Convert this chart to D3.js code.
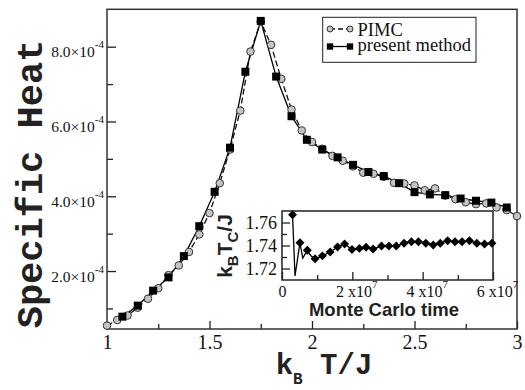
<!DOCTYPE html>
<html>
<head>
<meta charset="utf-8">
<script src="https://cdn.jsdelivr.net/npm/d3@7"></script>
<style>
  html, body { margin: 0; padding: 0; background: #fff; }
  svg { display: block; }
  .serif { font-family: "Liberation Serif", "Times New Roman", serif; }
  .mono { font-family: "Liberation Mono", "Courier New", monospace; font-weight: bold; }
  .sans { font-family: "Liberation Sans", Arial, sans-serif; font-weight: bold; }
</style>
</head>
<body>
<svg id="chart" width="525" height="390"></svg>
<script>
// ---- Data (specific heat in units of 1e-4) ----
const pimcT = [1.00, 1.05, 1.10, 1.15, 1.20, 1.25, 1.30, 1.35, 1.40, 1.45, 1.50,
  1.55, 1.60, 1.65, 1.70, 1.75, 1.80, 1.85, 1.90, 1.95, 2.00,
  2.05, 2.10, 2.15, 2.20, 2.25, 2.30, 2.35, 2.40, 2.45, 2.50,
  2.55, 2.60, 2.65, 2.70, 2.75, 2.80, 2.85, 2.90, 2.95, 3.00];
const pimcHeat = [0.54, 0.69, 0.81, 1.02, 1.26, 1.54, 1.89, 2.15, 2.51, 2.98, 3.55,
  4.35, 5.25, 6.29, 7.87, 8.67, 8.05, 7.14, 6.32, 5.76, 5.45,
  5.27, 5.08, 4.95, 4.80, 4.63, 4.60, 4.52, 4.36, 4.34, 4.29,
  4.16, 4.21, 4.02, 3.92, 3.84, 3.79, 3.81, 3.70, 3.63, 3.47];

const presentT = [1.075, 1.15, 1.225, 1.30, 1.375, 1.45, 1.525, 1.60, 1.675, 1.75,
  1.825, 1.90, 1.975, 2.05, 2.125, 2.20, 2.275, 2.35, 2.425, 2.50,
  2.575, 2.65, 2.725, 2.80, 2.875, 2.95];
const presentHeat = [0.78, 1.075, 1.475, 1.83, 2.40, 3.20, 4.12, 5.30, 7.33, 8.69,
  7.20, 6.14, 5.51, 5.25, 5.04, 4.84, 4.65, 4.54, 4.35, 4.11,
  4.05, 4.03, 3.94, 3.88, 3.83, 3.70];

// inset: critical temperature vs Monte Carlo time (time in units of 1e6)
const mcTime = [3.0, 5.1, 7.2, 9.4, 11.5, 13.7, 15.8, 17.8, 19.9, 22.0,
  23.9, 25.9, 28.3, 30.4, 32.5, 34.7, 36.8, 38.8, 40.9, 43.0,
  45.0, 47.1, 49.2, 51.2, 53.3, 55.4, 57.6, 59.7];
const mcTc = [1.7668, 1.7424, 1.7358, 1.7284, 1.7310, 1.7343, 1.7387, 1.7413, 1.7365, 1.7375,
  1.7385, 1.7370, 1.7395, 1.7395, 1.7395, 1.7420, 1.7433, 1.7433, 1.7420, 1.7405,
  1.7420, 1.7442, 1.7433, 1.7433, 1.7442, 1.7420, 1.7413, 1.7420];
// line-only points between markers (no symbol drawn)
const mcDipTime = [3.7, 5.9, 8.2];
const mcDipTc = [1.7135, 1.7290, 1.7310];

const xMajor = [1, 1.5, 2, 2.5, 3];
const xMinor = [1.25, 1.75, 2.25, 2.75];
const yMajor = [2, 4, 6, 8];
const yMinor = [1, 3, 5, 7];
const insetXMajor = [0, 20, 40, 60];
const insetXMinor = [10, 30, 50];
const insetYMajor = [1.72, 1.74, 1.76];
const insetYMinor = [1.73, 1.75];
const legendLabels = ["PIMC", "present method"];

// ---- Layout ----
const svg = d3.select("#chart");
const frame = { left: 107, right: 517, top: 9.3, bottom: 329 };
const inset = { left: 282, right: 493, top: 211, bottom: 280 };

svg.append("rect").attr("width", 525).attr("height", 390).attr("fill", "#fff");

const x = d3.scaleLinear().domain([1, 3]).range([frame.left, frame.right]);
const y = d3.scaleLinear().domain([0.45, 9]).range([frame.bottom, frame.top]);

// ---- Axes (ticks point inward) ----
function styleAxis(g) {
  g.attr("font-family", null).attr("font-size", null);
  g.select(".domain").remove();
  g.selectAll(".tick line").attr("stroke", "#222").attr("stroke-width", 1.3);
}

svg.append("g")
  .attr("transform", `translate(0,${frame.bottom})`)
  .call(d3.axisBottom(x).tickValues(xMinor).tickSize(-5).tickFormat(""))
  .call(styleAxis);
svg.append("g")
  .attr("transform", `translate(0,${frame.bottom})`)
  .call(d3.axisBottom(x).tickValues(xMajor).tickSize(-8).tickPadding(6).tickFormat(d3.format("")))
  .call(styleAxis)
  .call((g) => g.selectAll("text").attr("class", "serif")
    .style("font-size", "20px").attr("fill", "#111"));

svg.append("g")
  .attr("transform", `translate(${frame.left},0)`)
  .call(d3.axisLeft(y).tickValues(yMinor).tickSize(-6).tickFormat(""))
  .call(styleAxis);
svg.append("g")
  .attr("transform", `translate(${frame.left},0)`)
  .call(d3.axisLeft(y).tickValues(yMajor).tickSize(-9).tickFormat(""))
  .call(styleAxis)
  .call((g) => g.selectAll(".tick").each(function (d) {
    const t = d3.select(this).append("text")
      .attr("class", "serif")
      .attr("x", -3).attr("y", 10)
      .attr("text-anchor", "end")
      .style("font-size", "15.5px").attr("fill", "#111");
    t.append("tspan").text(d3.format(".1f")(d) + "\u00d710");
    t.append("tspan").attr("dy", -9).style("font-size", "11px").text("-4");
  }));

// frame
svg.append("rect")
  .attr("x", frame.left).attr("y", frame.top)
  .attr("width", frame.right - frame.left).attr("height", frame.bottom - frame.top)
  .attr("fill", "none").attr("stroke", "#333").attr("stroke-width", 1.5);

// ---- Series ----
const pimc = pimcT.map((t, i) => ({ t, c: pimcHeat[i] }));
const present = presentT.map((t, i) => ({ t, c: presentHeat[i] }));
const line = d3.line().x((d) => x(d.t)).y((d) => y(d.c));

svg.append("path").datum(pimc)
  .attr("d", line).attr("fill", "none")
  .attr("stroke", "#111").attr("stroke-width", 1.3).attr("stroke-dasharray", "6,3");
svg.append("path").datum(present)
  .attr("d", line).attr("fill", "none")
  .attr("stroke", "#000").attr("stroke-width", 1.3);

svg.append("g").selectAll("circle").data(pimc).join("circle")
  .attr("cx", (d) => x(d.t)).attr("cy", (d) => y(d.c)).attr("r", 3.8)
  .attr("fill", "#c4c4c4").attr("stroke", "#333").attr("stroke-width", 1);

const square = d3.symbol().type(d3.symbolSquare);
svg.append("g").selectAll("path").data(present).join("path")
  .attr("transform", (d) => `translate(${x(d.t)},${y(d.c)})`)
  .attr("d", square.size(64)()).attr("fill", "#000");

// ---- Legend ----
const lg = svg.append("g");
lg.append("rect").attr("x", 322.7).attr("y", 17.3).attr("width", 153.3).attr("height", 45)
  .attr("fill", "#fff").attr("stroke", "#222").attr("stroke-width", 1);
lg.append("line").attr("x1", 330).attr("x2", 350).attr("y1", 29).attr("y2", 29)
  .attr("stroke", "#111").attr("stroke-width", 1.3).attr("stroke-dasharray", "5,3");
[330, 350].forEach((cx) => lg.append("circle").attr("cx", cx).attr("cy", 29).attr("r", 3)
  .attr("fill", "#c4c4c4").attr("stroke", "#333").attr("stroke-width", 1));
lg.append("line").attr("x1", 330).attr("x2", 350).attr("y1", 46.5).attr("y2", 46.5)
  .attr("stroke", "#000").attr("stroke-width", 1.3);
[330, 350].forEach((cx) => lg.append("path").attr("transform", `translate(${cx},46.5)`)
  .attr("d", square.size(40)()).attr("fill", "#000"));
lg.selectAll("text.lab").data(legendLabels).join("text")
  .attr("class", "serif").attr("x", 357.5).attr("y", (d, i) => 36 + i * 15.3)
  .style("font-size", "18.5px").attr("fill", "#111").text((d) => d);

// ---- Axis titles ----
svg.append("text")
  .attr("class", "mono")
  .attr("transform", "translate(42,184) rotate(-90)")
  .attr("text-anchor", "middle")
  .style("font-size", "37px").attr("fill", "#222")
  .text("Specific Heat");

const xt = svg.append("text")
  .attr("class", "mono")
  .attr("x", 324).attr("y", 374).attr("text-anchor", "middle")
  .style("font-size", "29px").attr("fill", "#222");
xt.append("tspan").text("k");
xt.append("tspan").attr("dy", 10).style("font-size", "16px").text("B");
xt.append("tspan").attr("dy", -10).text(" T/J");

// ---- Inset ----
const ix = d3.scaleLinear().domain([0, 60]).range([inset.left, inset.right]);
const iy = d3.scaleLinear().domain([1.71, 1.77]).range([inset.bottom, inset.top]);

svg.append("rect")
  .attr("x", inset.left).attr("y", inset.top)
  .attr("width", inset.right - inset.left).attr("height", inset.bottom - inset.top)
  .attr("fill", "#fff");

svg.append("g")
  .attr("transform", `translate(0,${inset.bottom})`)
  .call(d3.axisBottom(ix).tickValues(insetXMinor).tickSize(-5).tickFormat(""))
  .call(styleAxis);
svg.append("g")
  .attr("transform", `translate(0,${inset.bottom})`)
  .call(d3.axisBottom(ix).tickValues(insetXMajor).tickSize(-8).tickFormat(""))
  .call(styleAxis)
  .call((g) => g.selectAll(".tick").each(function (d) {
    const t = d3.select(this).append("text")
      .attr("class", "serif")
      .attr("x", d === 0 ? 0 : 4).attr("y", 16.5).attr("text-anchor", "middle")
      .style("font-size", "16px").attr("fill", "#111");
    if (d === 0) { t.text("0"); return; }
    t.append("tspan").text(d / 10 + " x10");
    t.append("tspan").attr("dy", -9).style("font-size", "11px").text("7");
  }));

svg.append("g")
  .attr("transform", `translate(${inset.left},0)`)
  .call(d3.axisLeft(iy).tickValues(insetYMinor).tickSize(-5).tickFormat(""))
  .call(styleAxis);
svg.append("g")
  .attr("transform", `translate(${inset.left},0)`)
  .call(d3.axisLeft(iy).tickValues(insetYMajor).tickSize(-8).tickPadding(5).tickFormat(d3.format(".2f")))
  .call(styleAxis)
  .call((g) => g.selectAll("text").attr("class", "serif")
    .style("font-size", "18px").attr("fill", "#111").attr("dy", "0.36em"));

svg.append("rect")
  .attr("x", inset.left).attr("y", inset.top)
  .attr("width", inset.right - inset.left).attr("height", inset.bottom - inset.top)
  .attr("fill", "none").attr("stroke", "#222").attr("stroke-width", 1.5);

const mcPts = mcTime.map((t, i) => ({ t, v: mcTc[i] }));
const mcLine = mcPts.concat(mcDipTime.map((t, i) => ({ t, v: mcDipTc[i] })))
  .sort((a, b) => a.t - b.t);

svg.append("path").datum(mcLine)
  .attr("d", d3.line().x((d) => ix(d.t)).y((d) => iy(d.v)))
  .attr("fill", "none").attr("stroke", "#000").attr("stroke-width", 1.3);
svg.append("g").selectAll("path").data(mcPts).join("path")
  .attr("transform", (d) => `translate(${ix(d.t)},${iy(d.v)}) rotate(45)`)
  .attr("d", square.size(40)()).attr("fill", "#000");

svg.append("text")
  .attr("class", "sans")
  .attr("x", 384).attr("y", 316).attr("text-anchor", "middle")
  .style("font-size", "18.5px").attr("fill", "#222")
  .text("Monte Carlo time");

const iyt = svg.append("text")
  .attr("class", "sans")
  .attr("transform", "translate(232,246) rotate(-90)")
  .attr("text-anchor", "middle")
  .style("font-size", "21px").attr("fill", "#222");
iyt.append("tspan").text("k");
iyt.append("tspan").attr("dy", 6).style("font-size", "15px").text("B");
iyt.append("tspan").attr("dy", -6).text("T");
iyt.append("tspan").attr("dy", 6).style("font-size", "15px").text("C");
iyt.append("tspan").attr("dy", -6).text("/J");
</script>
</body>
</html>
